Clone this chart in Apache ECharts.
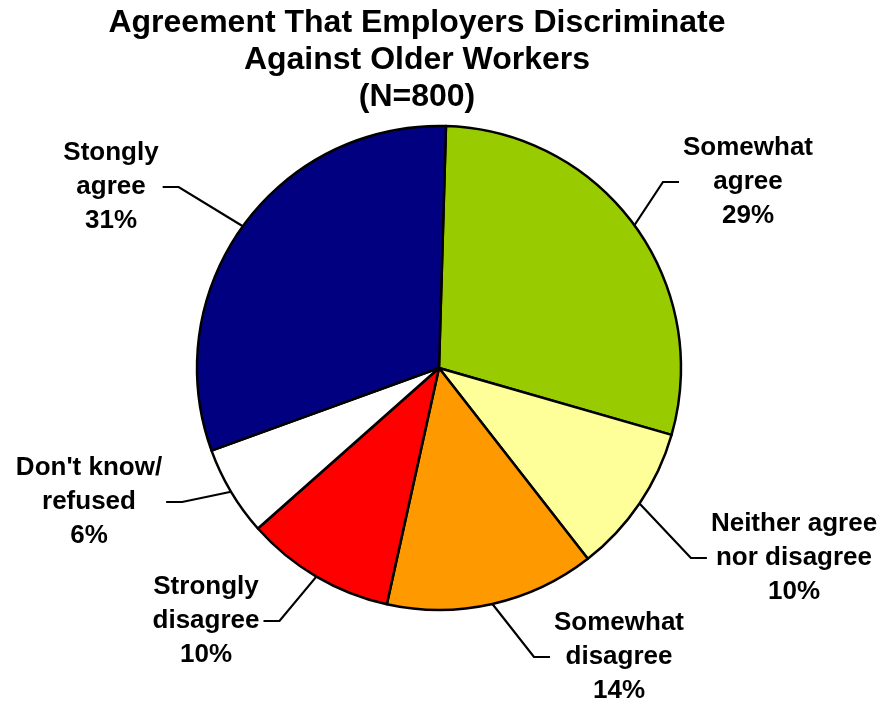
<!DOCTYPE html>
<html>
<head>
<meta charset="utf-8">
<script src="https://cdn.jsdelivr.net/npm/echarts@6/dist/echarts.min.js"></script>
<style>
  html, body { margin: 0; padding: 0; background: #ffffff; }
  #chart { width: 882px; height: 703px; }
</style>
</head>
<body>
<div id="chart"></div>
<script>
// Survey responses, clockwise from the top of the pie
const categories = [
  'Somewhat\nagree',
  'Neither agree\nnor disagree',
  'Somewhat\ndisagree',
  'Strongly\ndisagree',
  "Don't know/\nrefused",
  'Stongly\nagree'
];
const shares = [29, 10, 14, 10, 6, 31];
const sliceColors = ['#99CC00', '#FFFF99', '#FF9900', '#FF0000', '#FFFFFF', '#000080'];

// Where each label block is centred (px) and how the leader line meets it
const labelCenters = [[748, 182], [794, 558], [619, 657], [206, 621], [89, 502], [111, 187]];
const LINE_GAP = 4;
const LINE_ELBOW = 16;

const FONT = '"Liberation Sans", Arial, Helvetica, sans-serif';

const chart = echarts.init(document.getElementById('chart'), null, { renderer: 'canvas' });

chart.setOption({
  backgroundColor: '#ffffff',
  animation: false,
  title: {
    text: 'Agreement That Employers Discriminate\nAgainst Older Workers\n(N=800)',
    left: 417,
    top: 5,
    padding: 0,
    textAlign: 'center',
    textStyle: {
      fontFamily: FONT,
      fontWeight: 'bold',
      fontSize: 32,
      lineHeight: 37,
      color: '#000000'
    }
  },
  series: [{
    type: 'pie',
    center: [439, 368],
    radius: 242,
    startAngle: 88.35,
    clockwise: true,
    avoidLabelOverlap: false,
    silent: true,
    data: categories.map((name, i) => ({
      name: name,
      value: shares[i],
      itemStyle: { color: sliceColors[i] }
    })),
    itemStyle: { borderColor: '#000000', borderWidth: 2.5 },
    label: {
      show: true,
      position: 'outside',
      formatter: '{b}\n{c}%',
      color: '#000000',
      fontFamily: FONT,
      fontWeight: 'bold',
      fontSize: 26,
      lineHeight: 34
    },
    labelLine: {
      show: true,
      length: 20,
      length2: 20,
      lineStyle: { color: '#000000', width: 2.2 }
    },
    labelLayout: function (p) {
      const c = labelCenters[p.dataIndex];
      const cx = c[0], cy = c[1];
      const w = p.labelRect.width;
      const anchor = p.labelLinePoints[0];
      const onRight = cx > anchor[0];
      const end = onRight ? cx - w / 2 - LINE_GAP : cx + w / 2 + LINE_GAP;
      const knee = onRight ? end - LINE_ELBOW : end + LINE_ELBOW;
      return {
        x: cx,
        y: cy,
        align: 'center',
        verticalAlign: 'middle',
        labelLinePoints: [anchor, [knee, cy], [end, cy]]
      };
    }
  }]
});
</script>
</body>
</html>
